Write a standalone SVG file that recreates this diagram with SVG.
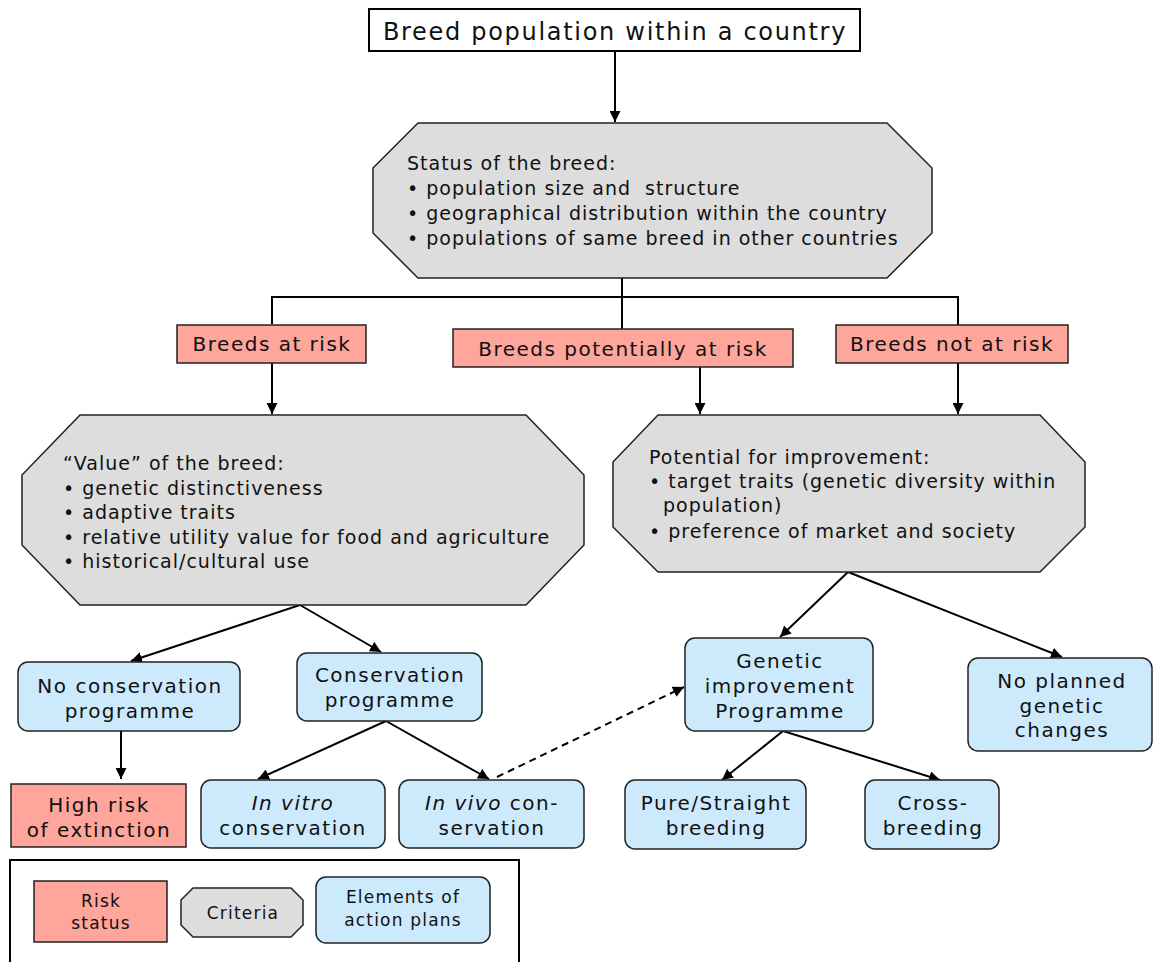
<svg xmlns="http://www.w3.org/2000/svg" width="1153" height="962" viewBox="0 0 1153 962">
<defs>
<style>
text{font-family:"DejaVu Sans","Liberation Sans",sans-serif;fill:#111}
.t{font-size:24px;letter-spacing:1.7px;text-anchor:middle}
.o{font-size:19px;letter-spacing:1px}
.b{font-size:20px;letter-spacing:1.5px;text-anchor:middle}
.l{font-size:17px;letter-spacing:1.2px;text-anchor:middle}
.red{fill:#fea59c;stroke:#222;stroke-width:1.5}
.gray{fill:#dddddd;stroke:#222;stroke-width:1.5}
.blue{fill:#cdeafd;stroke:#222;stroke-width:1.5}
.c{fill:none;stroke:#000;stroke-width:2}
.a{marker-end:url(#ah)}
.d{stroke-dasharray:7,5}
</style>
<marker id="ah" viewBox="0 0 10 10" refX="10" refY="5" markerWidth="11" markerHeight="11" markerUnits="userSpaceOnUse" orient="auto">
<path d="M0,0 L10,5 L0,10 Z" fill="#000"/>
</marker>
</defs>
<rect width="1153" height="962" fill="#fff"/>

<g id="connectors">
<line class="c a" x1="615" y1="52" x2="615" y2="122"/>
<polyline class="c" points="272,324 272,297 958,297 958,325"/>
<line class="c" x1="622" y1="278" x2="622" y2="329"/>
<line class="c a" x1="272" y1="363" x2="272" y2="414"/>
<line class="c a" x1="700" y1="367" x2="700" y2="414"/>
<line class="c a" x1="958" y1="363" x2="958" y2="414"/>
<line class="c a" x1="300" y1="605" x2="131" y2="661"/>
<line class="c a" x1="300" y1="605" x2="381" y2="652"/>
<line class="c a" x1="848" y1="572" x2="780" y2="637"/>
<line class="c a" x1="848" y1="572" x2="1062" y2="657"/>
<line class="c a" x1="121" y1="731" x2="121" y2="779"/>
<line class="c a" x1="386" y1="721" x2="258" y2="779"/>
<line class="c a" x1="386" y1="721" x2="489" y2="779"/>
<line class="c a d" x1="497" y1="777" x2="684" y2="687"/>
<line class="c a" x1="783" y1="731" x2="722" y2="780"/>
<line class="c a" x1="783" y1="731" x2="940" y2="780"/>
</g>

<g id="n-top">
<rect x="369" y="9" width="491" height="42" fill="#fff" stroke="#000" stroke-width="2"/>
<text class="t" x="615" y="40">Breed population within a country</text>
</g>

<g id="n-status">
<path class="gray" d="M418,123 L887,123 L932,168 L932,233 L887,278 L418,278 L373,233 L373,168 Z"/>
<text class="o" x="407" y="170">Status of the breed:</text>
<text class="o" x="407" y="195" style="white-space:pre">• population size and  structure</text>
<text class="o" x="407" y="220">• geographical distribution within the country</text>
<text class="o" x="407" y="245">• populations of same breed in other countries</text>
</g>

<g id="n-atrisk">
<rect class="red" x="177" y="325" width="189" height="38"/>
<text class="b" x="272" y="351">Breeds at risk</text>
</g>
<g id="n-potential">
<rect class="red" x="453" y="329" width="340" height="38"/>
<text class="b" x="623" y="356">Breeds potentially at risk</text>
</g>
<g id="n-notrisk">
<rect class="red" x="836" y="325" width="232" height="38"/>
<text class="b" x="952" y="351">Breeds not at risk</text>
</g>

<g id="n-value">
<path class="gray" d="M80,415 L526,415 L584,475 L584,545 L526,605 L80,605 L22,545 L22,475 Z"/>
<text class="o" x="63" y="470">“Value” of the breed:</text>
<text class="o" x="63" y="495">• genetic distinctiveness</text>
<text class="o" x="63" y="519">• adaptive traits</text>
<text class="o" x="63" y="544">• relative utility value for food and agriculture</text>
<text class="o" x="63" y="568">• historical/cultural use</text>
</g>

<g id="n-improve">
<path class="gray" d="M658,415 L1040,415 L1085,462 L1085,527 L1040,572 L658,572 L613,527 L613,462 Z"/>
<text class="o" x="649" y="464">Potential for improvement:</text>
<text class="o" x="649" y="488">• target traits (genetic diversity within</text>
<text class="o" x="663" y="512">population)</text>
<text class="o" x="649" y="538">• preference of market and society</text>
</g>

<g id="n-noconserv">
<rect class="blue" x="18" y="662" width="222" height="69" rx="10"/>
<text class="b" x="130" y="693">No conservation</text>
<text class="b" x="130" y="718">programme</text>
</g>
<g id="n-conserv">
<rect class="blue" x="297" y="653" width="185" height="68" rx="10"/>
<text class="b" x="390" y="682">Conservation</text>
<text class="b" x="390" y="707">programme</text>
</g>
<g id="n-genetic">
<rect class="blue" x="685" y="638" width="188" height="93" rx="10"/>
<text class="b" x="780" y="668">Genetic</text>
<text class="b" x="780" y="693">improvement</text>
<text class="b" x="780" y="718">Programme</text>
</g>
<g id="n-noplanned">
<rect class="blue" x="968" y="658" width="184" height="93" rx="10"/>
<text class="b" x="1062" y="688">No planned</text>
<text class="b" x="1062" y="713">genetic</text>
<text class="b" x="1062" y="737">changes</text>
</g>
<g id="n-highrisk">
<rect class="red" x="11" y="784" width="175" height="63"/>
<text class="b" x="99" y="812">High risk</text>
<text class="b" x="99" y="837">of extinction</text>
</g>
<g id="n-invitro">
<rect class="blue" x="201" y="780" width="184" height="68" rx="10"/>
<text class="b" x="293" y="810"><tspan font-style="italic">In vitro</tspan></text>
<text class="b" x="293" y="835">conservation</text>
</g>
<g id="n-invivo">
<rect class="blue" x="399" y="780" width="185" height="68" rx="10"/>
<text class="b" x="492" y="810"><tspan font-style="italic">In vivo</tspan> con-</text>
<text class="b" x="492" y="835">servation</text>
</g>
<g id="n-pure">
<rect class="blue" x="625" y="780" width="181" height="69" rx="10"/>
<text class="b" x="716" y="810">Pure/Straight</text>
<text class="b" x="716" y="835">breeding</text>
</g>
<g id="n-cross">
<rect class="blue" x="865" y="780" width="134" height="69" rx="10"/>
<text class="b" x="933" y="810">Cross-</text>
<text class="b" x="933" y="835">breeding</text>
</g>

<g id="legend">
<polyline points="10,962 10,860 519,860 519,962" fill="none" stroke="#000" stroke-width="2"/>
<rect class="red" x="34" y="881" width="133" height="61"/>
<text class="l" x="101" y="907">Risk</text>
<text class="l" x="101" y="929">status</text>
<path class="gray" d="M193,888 L291,888 L303,900 L303,925 L291,937 L193,937 L181,925 L181,900 Z"/>
<text class="l" x="243" y="919">Criteria</text>
<rect class="blue" x="316" y="877" width="174" height="66" rx="10"/>
<text class="l" x="403" y="903">Elements of</text>
<text class="l" x="403" y="926">action plans</text>
</g>
</svg>
